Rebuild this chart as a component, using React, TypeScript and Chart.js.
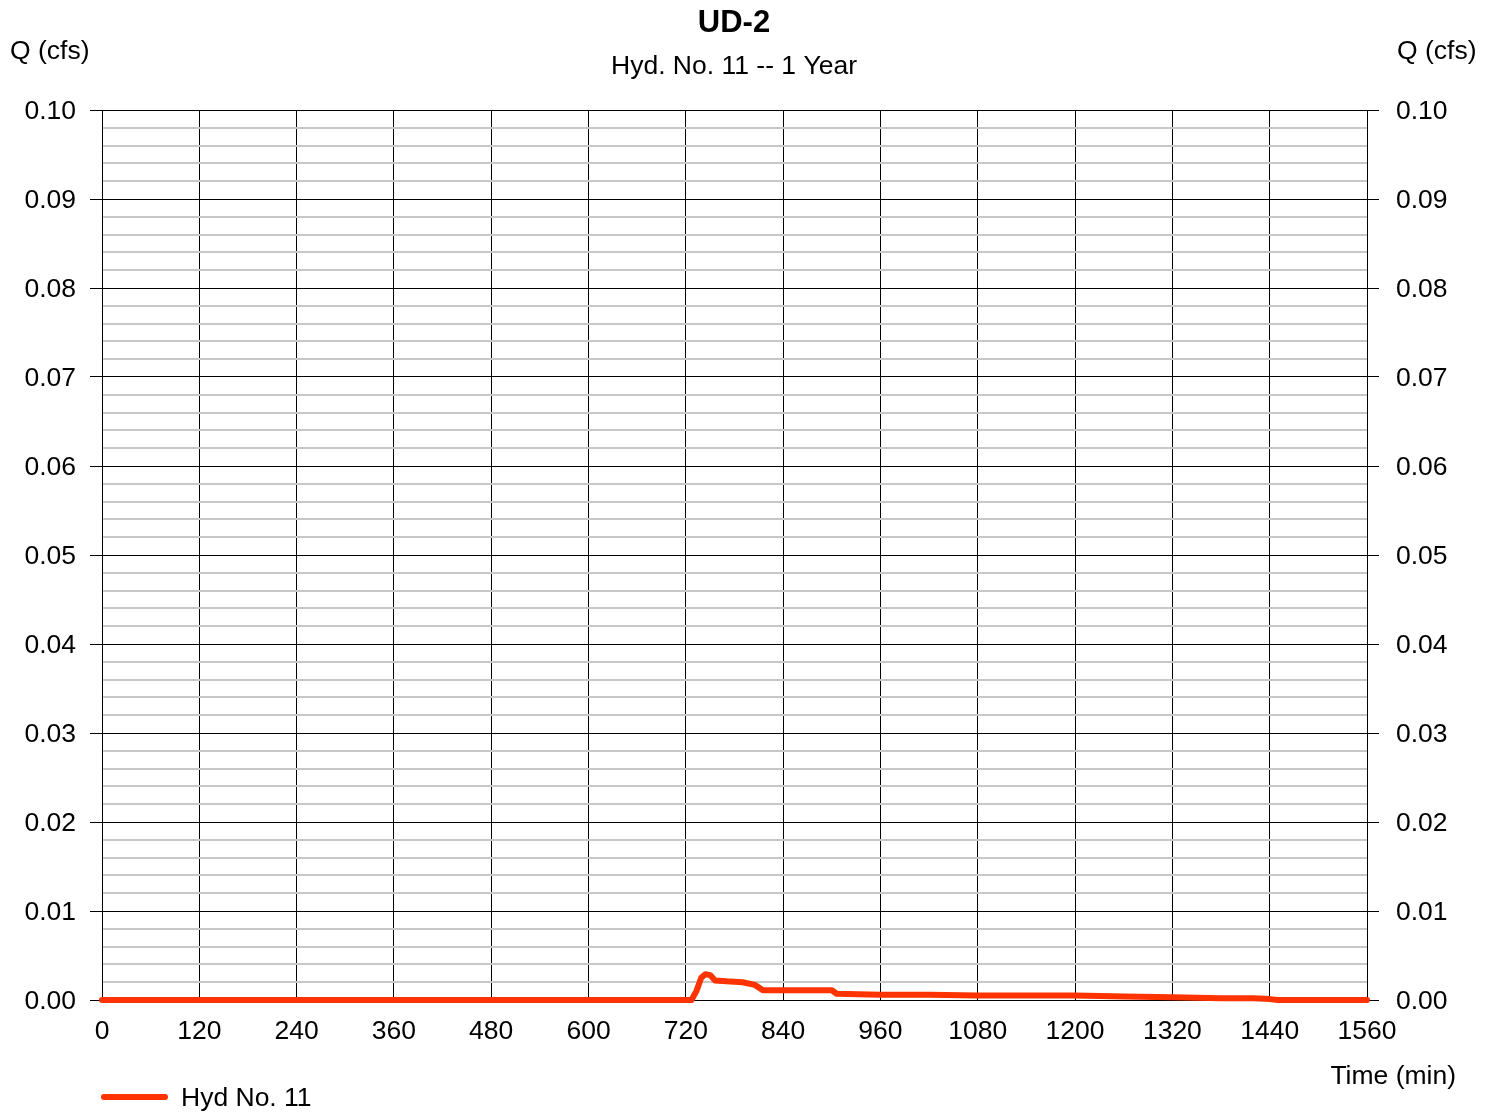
import React, { useEffect, useRef } from "react";
import { Chart, registerables } from "chart.js";

Chart.register(...registerables);

const TITLE = "UD-2";
const SUBTITLE = "Hyd. No. 11 -- 1 Year";
const Y_TITLE = "Q (cfs)";
const X_TITLE = "Time (min)";
const SERIES_NAME = "Hyd No. 11";

const TIME_MIN = [0, 727, 733, 739, 744, 750, 756, 770, 790, 805, 815, 840, 870, 900, 906, 960, 1020, 1080, 1140, 1200, 1260, 1320, 1380, 1420, 1440, 1450, 1560];
const FLOW_CFS = [0, 0, 0.001, 0.0025, 0.0029, 0.0028, 0.0022, 0.0021, 0.002, 0.0017, 0.0011, 0.0011, 0.0011, 0.0011, 0.0007, 0.0006, 0.0006, 0.0005, 0.0005, 0.0005, 0.0004, 0.0003, 0.0002, 0.0002, 0.0001, 0, 0];

const X_MIN = 0;
const X_MAX = 1560;
const X_STEP = 120;
const Y_MIN = 0;
const Y_MAX = 0.1;
const Y_MINOR_STEP = 0.002;

const FONT = "'Liberation Sans', Arial, sans-serif";
const FONT_SIZE = 26.5;
const LINE_COLOR = "#ff3300";

const isMajor = (v: number) => Math.round(v * 1000) % 10 === 0;

export default function App() {
  const ref = useRef<HTMLCanvasElement | null>(null);

  useEffect(() => {
    if (!ref.current) return;
    const textPlugin = {
      id: "texts",
      afterDraw(chart: any) {
        const c = chart.ctx;
        c.save();
        c.fillStyle = "#000";
        c.textBaseline = "middle";
        c.textAlign = "center";
        c.font = `bold 31px ${FONT}`;
        c.fillText(TITLE, 734, 23);
        c.font = `${FONT_SIZE}px ${FONT}`;
        c.fillText(SUBTITLE, 734, 67);
        c.textAlign = "left";
        c.fillText(Y_TITLE, 10, 52);
        c.fillText(Y_TITLE, 1397, 52);
        c.textAlign = "right";
        c.fillText(X_TITLE, 1456, 1077);
        c.textAlign = "left";
        c.fillText(SERIES_NAME, 181, 1099);
        c.strokeStyle = LINE_COLOR;
        c.lineWidth = 6;
        c.lineCap = "round";
        c.beginPath();
        c.moveTo(104, 1097);
        c.lineTo(165, 1097);
        c.stroke();
        c.restore();
      },
    };

    const yCommon = (pos: "left" | "right") => ({
      type: "linear" as const,
      position: pos,
      min: Y_MIN,
      max: Y_MAX,
      afterFit(axis: any) {
        axis.width = pos === "left" ? 102 : 127;
      },
      border: { color: "#000", width: 1 },
      grid: {
        drawOnChartArea: pos === "left",
        color: (ctx: any) => (isMajor(ctx.tick.value) ? "#000" : "#c8c8c8"),
        lineWidth: (ctx: any) => (isMajor(ctx.tick.value) ? 1 : 2),
        tickColor: (ctx: any) => (isMajor(ctx.tick.value) ? "#000" : "rgba(0,0,0,0)"),
        tickLength: 12,
        tickWidth: 1,
      },
      ticks: {
        stepSize: Y_MINOR_STEP,
        autoSkip: false,
        padding: pos === "left" ? 14 : 17,
        labelOffset: 2,
        color: "#000",
        font: { family: FONT, size: FONT_SIZE },
        callback: (v: any) => (isMajor(Number(v)) ? Number(v).toFixed(2) : ""),
      },
    });

    const chart = new Chart(ref.current, {
      type: "line",
      data: {
        datasets: [
          {
            label: SERIES_NAME,
            data: TIME_MIN.map((t, i) => ({ x: t, y: FLOW_CFS[i] })),
            borderColor: LINE_COLOR,
            borderWidth: 6,
            pointRadius: 0,
            tension: 0,
            borderCapStyle: "round",
            borderJoinStyle: "round",
            clip: false as any,
            yAxisID: "y",
          },
        ],
      },
      options: {
        responsive: false,
        animation: false,
        layout: { padding: { top: 110, left: 0, right: 0, bottom: 0 } },
        plugins: { legend: { display: false }, title: { display: false }, tooltip: { enabled: false } },
        scales: {
          x: {
            type: "linear",
            min: X_MIN,
            max: X_MAX,
            afterFit(axis: any) {
              axis.height = 112;
            },
            border: { color: "#000", width: 1 },
            grid: { color: "#000", lineWidth: 1, drawTicks: false },
            ticks: {
              stepSize: X_STEP,
              autoSkip: false,
              maxRotation: 0,
              padding: 16,
              color: "#000",
              font: { family: FONT, size: FONT_SIZE },
              callback: (v: any) => String(v),
            },
          },
          y: yCommon("left") as any,
          y2: yCommon("right") as any,
        },
      },
      plugins: [textPlugin],
    });
    return () => chart.destroy();
  }, []);

  return (
    <div style={{ position: "fixed", left: 0, top: 0, width: 1494, height: 1112, background: "#fff" }}>
      <canvas ref={ref} width={1494} height={1112} style={{ display: "block" }} />
    </div>
  );
}
